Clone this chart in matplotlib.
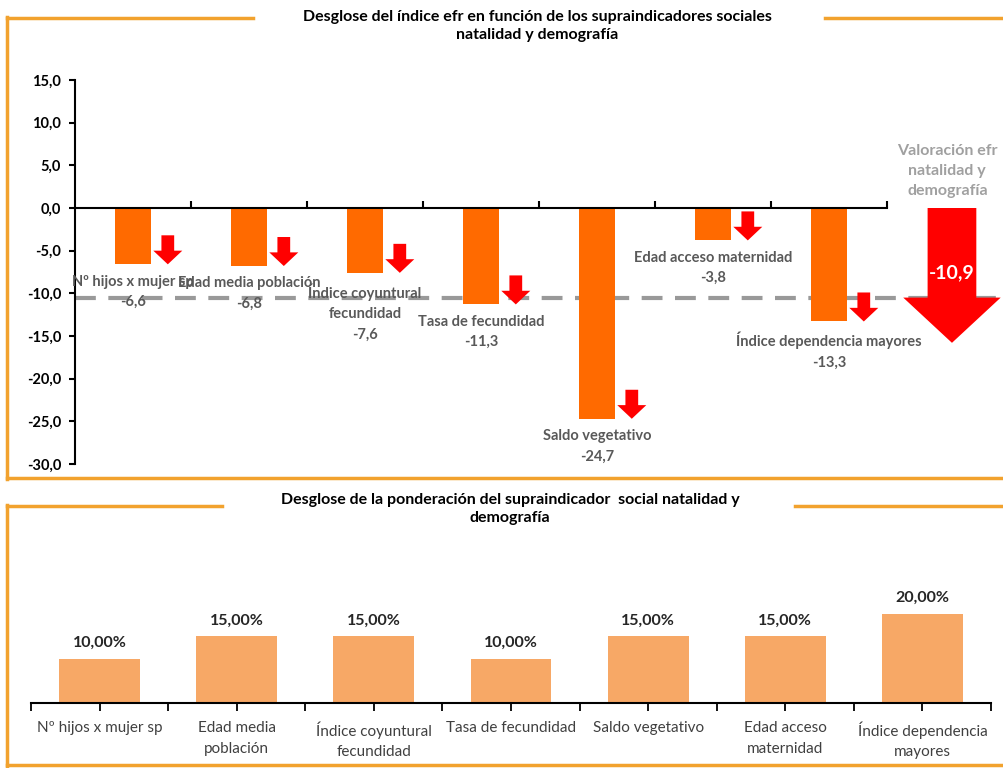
import matplotlib
matplotlib.use("Agg")
import matplotlib.pyplot as plt
from matplotlib.lines import Line2D
from matplotlib.ticker import FuncFormatter

plt.rcParams['font.family'] = ['Lato', 'DejaVu Sans']

# datos del gráfico superior
indicadores = ['Nº hijos x mujer sp', 'Edad media población', 'Índice coyuntural\nfecundidad',
               'Tasa de fecundidad', 'Saldo vegetativo', 'Edad acceso maternidad',
               'Índice dependencia mayores']
valores = [-6.6, -6.8, -7.6, -11.3, -24.7, -3.8, -13.3]
valoracion_total = -10.9
linea_media = -10.5

# datos del gráfico inferior
categorias_pond = ['Nº hijos x mujer sp', 'Edad media\npoblación', 'Índice coyuntural\nfecundidad',
                   'Tasa de fecundidad', 'Saldo vegetativo', 'Edad acceso\nmaternidad',
                   'Índice dependencia\nmayores']
ponderacion = [10, 15, 15, 10, 15, 15, 20]

naranja = '#FF6A00'
naranja_claro = '#F7A866'
marco = '#F2A22E'
gris = '#595959'

fig = plt.figure(figsize=(10.04, 7.68), dpi=100)
W, H = 1004, 768


def linea_px(x0, y0, x1, y1):
    fig.add_artist(Line2D([x0 / W, x1 / W], [1 - y0 / H, 1 - y1 / H],
                          transform=fig.transFigure, color=marco, lw=2.5))


# marcos
linea_px(7, 18, 253, 18)
linea_px(825, 18, 1004, 18)
linea_px(7, 17, 7, 479)
linea_px(7, 478, 1004, 478)
linea_px(7, 506, 222, 506)
linea_px(795, 506, 1004, 506)
linea_px(7, 505, 7, 766)
linea_px(7, 765, 1004, 765)

fig.text(537 / W, 1 - 26 / H,
         'Desglose del índice efr en función de los supraindicadores sociales\nnatalidad y demografía',
         ha='center', va='center', fontsize=11.5, fontweight='bold', linespacing=1.45)
fig.text(510 / W, 1 - 509 / H,
         'Desglose de la ponderación del supraindicador  social natalidad y\ndemografía',
         ha='center', va='center', fontsize=11.5, fontweight='bold', linespacing=1.45)

# ---- gráfico superior ----
ax = fig.add_axes([75 / W, 1 - 464 / H, 928 / W, 384 / H])
n = len(valores)
xs = [i + 0.5 for i in range(n)]
ax.bar(xs, valores, width=0.31, color=naranja, zorder=2)
ax.set_xlim(0, 8)
ax.set_ylim(-30, 15)
ax.set_yticks(range(-30, 16, 5))
ax.yaxis.set_major_formatter(FuncFormatter(lambda v, p: f'{v:.1f}'.replace('.', ',')))
for lab in ax.get_yticklabels():
    lab.set_fontweight('bold')
ax.tick_params(axis='y', labelsize=10.5, length=4, width=1.5, pad=6, direction='out')
ax.spines['left'].set_linewidth(1.5)
ax.spines['right'].set_visible(False)
ax.spines['top'].set_visible(False)
ax.spines['bottom'].set_position(('data', 0))
ax.spines['bottom'].set_bounds(0, n)
ax.spines['bottom'].set_linewidth(1.5)
ax.set_xticks(range(1, n + 1))
ax.set_xticklabels([])
ax.tick_params(axis='x', direction='in', length=5, width=1.5)

ax.axhline(linea_media, xmin=0, xmax=1, color='#999999', lw=3, dashes=(5, 3), zorder=1)

for x, v, lab in zip(xs, valores, indicadores):
    ax.arrow(x + 0.3, v + 3.4, 0, -3.4, width=0.11, head_width=0.25, head_length=1.6,
             length_includes_head=True, color='#FF0000', lw=0, zorder=3)
    txt = lab + '\n' + f'{v:.1f}'.replace('.', ',')
    ax.text(x, v - 1.2, txt, ha='center', va='top', fontsize=10.5, fontweight='bold',
            color=gris, linespacing=1.6, zorder=4)

xt = 7.56
ax.arrow(xt, 0, 0, valoracion_total - 4.9, width=0.42, head_width=0.84, head_length=5.3,
         length_includes_head=True, color='#FF0000', lw=0, zorder=3)
ax.text(xt, -7.6, f'{valoracion_total:.1f}'.replace('.', ','), ha='center', va='center',
        fontsize=14, fontweight='bold', color='white', zorder=5)
ax.text(xt - 0.04, 4.3, 'Valoración efr\nnatalidad y\ndemografía', ha='center', va='center',
        fontsize=11.5, fontweight='bold', color='#A0A0A0', linespacing=1.55)

# ---- gráfico inferior ----
ax2 = fig.add_axes([31 / W, 1 - 703 / H, 960 / W, 133.5 / H])
xs2 = [i + 0.5 for i in range(len(ponderacion))]
ax2.bar(xs2, ponderacion, width=0.59, color=naranja_claro)
ax2.set_xlim(0, len(ponderacion))
ax2.set_ylim(0, 30)
for x, p in zip(xs2, ponderacion):
    ax2.text(x, p + 2.0, f'{p:.2f}%'.replace('.', ','), ha='center', va='bottom',
             fontsize=11.5, fontweight='bold', color='#262626')
for s in ['left', 'right', 'top']:
    ax2.spines[s].set_visible(False)
ax2.spines['bottom'].set_linewidth(1.5)
ax2.set_yticks([])
ax2.set_xticks(xs2)
ax2.set_xticklabels(categorias_pond, fontsize=11, color='#404040', va='top', linespacing=1.6)
ax2.set_xticks(range(len(ponderacion) + 1), minor=True)
ax2.tick_params(axis='x', which='both', direction='out', length=6, width=1.3, pad=7)

fig.savefig('out.png', dpi=100)
